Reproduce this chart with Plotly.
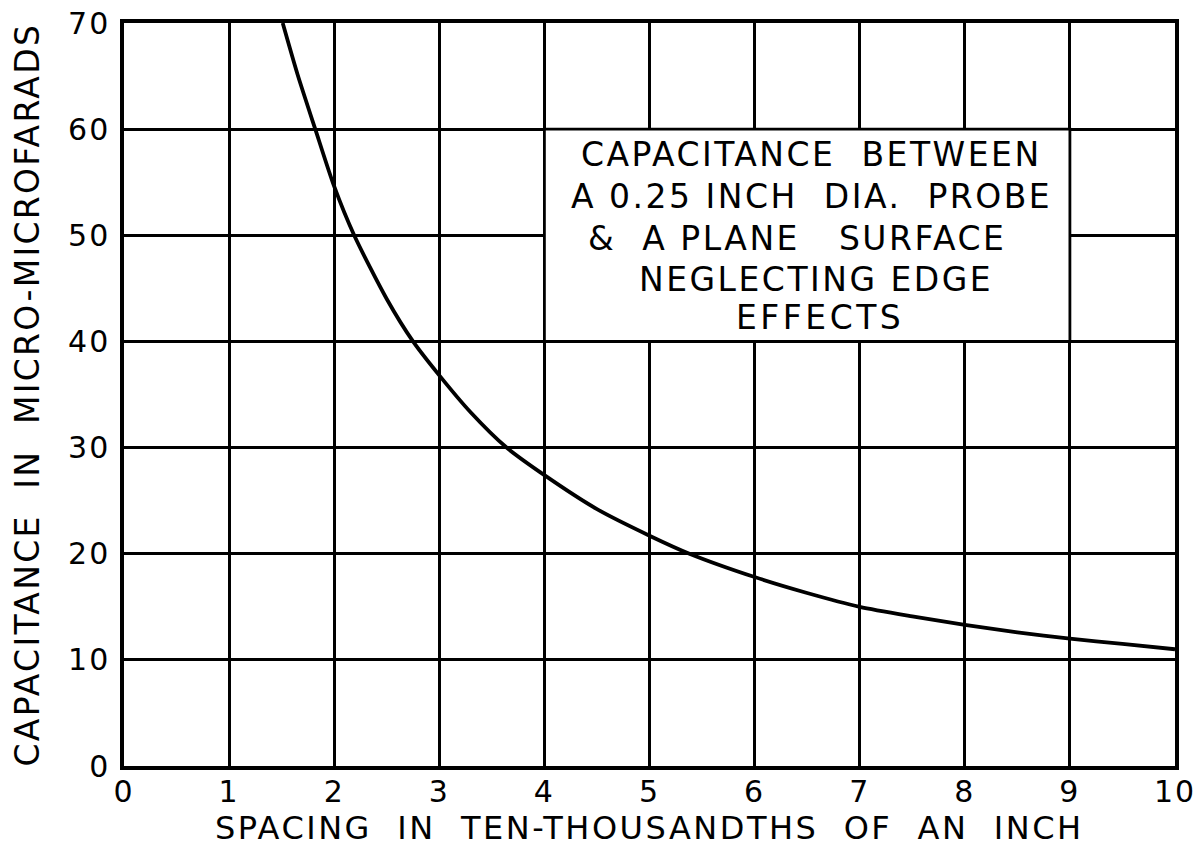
import plotly.graph_objects as go

# Curve
spacing = [1.51, 1.65, 1.82, 2.0, 2.19, 2.5, 2.75, 3.0, 3.3, 3.64, 4.0, 4.5, 5.0,
           5.38, 6.0, 6.5, 7.0, 7.5, 8.0, 8.5, 9.0, 9.5, 10.0]
capacitance = [70, 65.2, 60, 54.6, 50, 44.0, 40, 36.8, 33.3, 30, 27.4, 24.2, 21.7,
               20, 17.8, 16.3, 15.0, 14.1, 13.3, 12.6, 12.0, 11.5, 11.0]

x_ticks = [0, 1, 2, 3, 4, 5, 6, 7, 8, 9, 10]
x_tick_labels = ["0", "1", "2", "3", "4", "5", "6", "7", "8", "9", "10"]
y_ticks = [0, 10, 20, 30, 40, 50, 60, 70]
y_tick_labels = ["0", "10", "20", "30", "40", "50", "60", "70"]

x_title = "SPACING  IN  TEN-THOUSANDTHS  OF  AN  INCH"
y_title = "CAPACITANCE  IN  MICRO-MICROFARADS"
note_lines = ["CAPACITANCE  BETWEEN", "A 0.25 INCH  DIA.  PROBE",
              "&  A PLANE   SURFACE", "NEGLECTING EDGE", "EFFECTS"]
note_y = [57.6, 53.7, 49.7, 45.8, 42.3]
note_x = [6.54, 6.54, 6.40, 6.58, 6.62]
note_spacing = [2.5, 2.5, 2.5, 2.5, 3.5]

FONT = "DejaVu Sans"


def spaced(t, px):
    return f'<span style="letter-spacing:{px}px">{t}</span>'


fig = go.Figure()
fig.add_trace(go.Scatter(x=spacing, y=capacitance, mode="lines",
                         line=dict(color="black", width=3.8, shape="spline", smoothing=0.7),
                         hoverinfo="skip", showlegend=False))

# white note box (bounded by grid lines x 4-9, y 40-60)
fig.add_shape(type="rect", xref="x", yref="y", x0=4, x1=9, y0=40, y1=60,
              fillcolor="white", line=dict(color="black", width=2.8), layer="above")

for txt, ly, lx, ls in zip(note_lines, note_y, note_x, note_spacing):
    fig.add_annotation(x=lx, y=ly, xref="x", yref="y", text=spaced(txt, ls), showarrow=False,
                       font=dict(family=FONT, size=33, color="black"),
                       xanchor="center", yanchor="middle")

# axis titles
fig.add_annotation(x=0.5, y=0, xref="paper", yref="paper", text=spaced(x_title, 2.5),
                   showarrow=False, xanchor="center", yanchor="middle", yshift=-62,
                   font=dict(family=FONT, size=32, color="black"))
fig.add_annotation(x=0, y=0.5, xref="paper", yref="paper", text=spaced(y_title, 2.3),
                   showarrow=False, xanchor="center", yanchor="middle", xshift=-97,
                   textangle=-90, font=dict(family=FONT, size=33, color="black"))

fig.update_xaxes(range=[0, 10], tickvals=x_ticks, ticktext=[spaced(t, 2) for t in x_tick_labels],
                 showgrid=True, gridcolor="black", gridwidth=2.8,
                 showline=True, linecolor="black", linewidth=3.5, mirror=True,
                 zeroline=False, ticks="", ticklabelstandoff=-4, ticklabeloverflow="allow",
                 tickfont=dict(family=FONT, size=30, color="black"))
fig.update_yaxes(range=[0, 70], tickvals=y_ticks, ticktext=[spaced(t, 2) for t in y_tick_labels],
                 showgrid=True, gridcolor="black", gridwidth=2.8,
                 showline=True, linecolor="black", linewidth=3.5, mirror=True,
                 zeroline=False, ticks="", ticklabelstandoff=4, ticklabeloverflow="allow",
                 tickfont=dict(family=FONT, size=30, color="black"))

fig.update_layout(width=1199, height=849, plot_bgcolor="white", paper_bgcolor="white",
                  margin=dict(l=124, r=24, t=23, b=83, autoexpand=False))

# remove the default page margin so the figure fills the window exactly
fig.write_html("out.html", config={"displayModeBar": False},
               post_script="document.body.style.margin='0px';")
